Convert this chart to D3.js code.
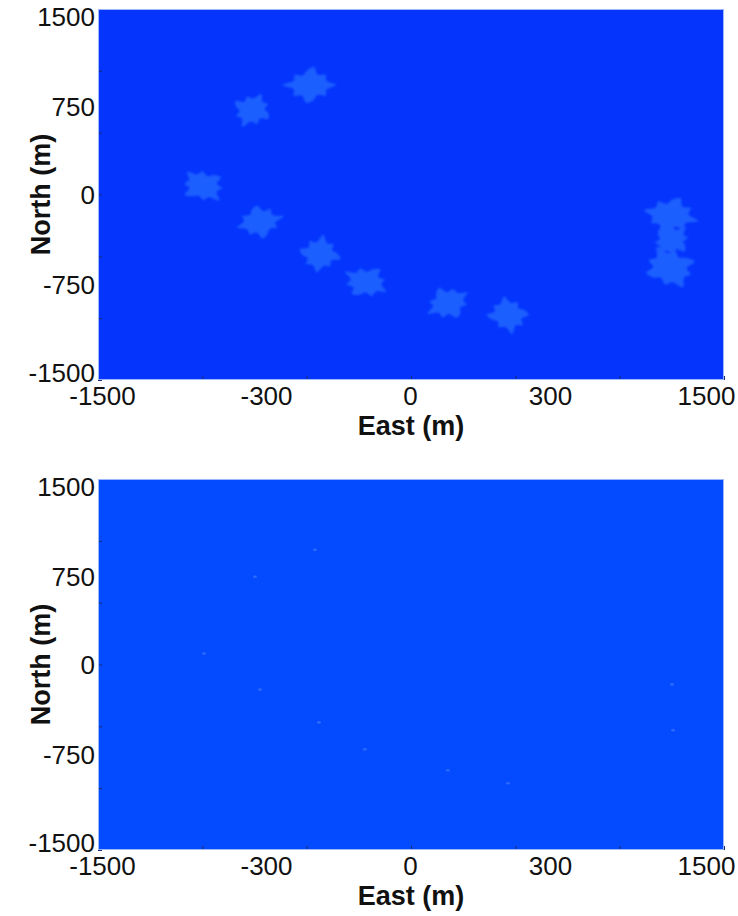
<!DOCTYPE html>
<html>
<head>
<meta charset="utf-8">
<script src="https://cdn.jsdelivr.net/npm/d3@7"></script>
<style>
body { margin: 0; background: #fff; }
text { font-family: Arial, "Liberation Sans", sans-serif; fill: #111; }
.tick-label text { font-size: 26px; fill: #111; }
.axis-title { font-size: 27px; font-weight: bold; }
</style>
</head>
<body>
<svg id="chart" width="738" height="916"></svg>
<script>

/*****************************************
*   Data
*****************************************/

// tick labels as printed on the axes
const X_LABELS = [-1500, -300, 0, 300, 1500];
const Y_LABELS = [1500, 750, 0, -750, -1500];
// tick marks every 500 m
const TICK_MARKS = [-1500, -1000, -500, 0, 500, 1000, 1500];

// top panel: wake patches, centre in metres and relative size
const wake_east  = [-484, -762, -997, -724, -436, -216, 177, 465, 1245, 1250, 1242];
const wake_north = [ 885,  683,   69, -222, -481, -707, -877, -974, -170, -370, -590];
const wake_size  = [1.1, 0.95, 1.0, 1.0, 1.0, 1.0, 1.0, 1.0, 1.15, 0.9, 1.2];

// bottom panel: turbine spots in metres
const turbine_east  = [-460, -748, -992, -724, -441, -221, 177, 465, 1251, 1256];
const turbine_north = [ 927,  710,   89, -202, -468, -686, -855, -960, -161, -532];

/*****************************************
*   Layout / styles
*****************************************/

const PLOT_LEFT = 98;
const PLOT_WIDTH = 626;
const PLOT_HEIGHT = 371;
const PANEL_TOPS = [9, 479];

// where the printed labels sit along the axes (px from plot edge)
const X_LABEL_POS = [4, 168, 312, 452, 608];
const Y_LABEL_POS = [8, 98, 186, 276, 364];

const BG_TOP = '#0535fd';
const BG_BOTTOM = '#044bff';
const WAKE_COLOR = '#1d5eff';
const TURBINE_COLOR = '#2a6aff';
const FRAME_COLOR = '#9bb8ff';

const BLOB_R_EAST = 95;     // metres
const BLOB_R_NORTH = 125;   // metres
// splat outline (radius factor going round the patch)
const BLOB_PROFILE = [1.2, 0.8, 0.95, 0.68, 0.9, 1.05, 0.72, 0.98, 0.78,
                      1.25, 0.78, 0.92, 0.66, 0.86, 1.08, 0.7, 0.94, 0.8];

var svg = d3.select('#chart');

var xScale = d3.scaleLinear()
    .domain([-1500, 1500])
    .range([0, PLOT_WIDTH]);

var yScale = d3.scaleLinear()
    .domain([-1500, 1500])
    .range([PLOT_HEIGHT, 0]);

var xLabelScale = d3.scaleLinear().domain(X_LABELS).range(X_LABEL_POS);
var yLabelScale = d3.scaleLinear().domain(Y_LABELS).range(Y_LABEL_POS);

// soft edge for wake patches
svg.append('defs')
    .append('filter')
    .attr('id', 'soft')
    .append('feGaussianBlur')
    .attr('stdDeviation', 0.9);

draw_panel(0, BG_TOP);
draw_wakes(d3.select('#panel0'));
draw_panel(1, BG_BOTTOM);
draw_turbines(d3.select('#panel1'));

/*****************************************
*   Panels
*****************************************/

function draw_panel(i, bg) {
    var g = svg.append('g')
        .attr('id', 'panel' + i)
        .attr('transform', 'translate(' + PLOT_LEFT + ',' + PANEL_TOPS[i] + ')');

    g.append('rect')
        .attr('width', PLOT_WIDTH)
        .attr('height', PLOT_HEIGHT)
        .attr('fill', bg);

    // inward tick marks
    var xTicks = g.append('g')
        .attr('transform', 'translate(0,' + PLOT_HEIGHT + ')')
        .call(d3.axisBottom(xScale).tickValues(TICK_MARKS).tickSize(-4).tickFormat(''));
    var yTicks = g.append('g')
        .call(d3.axisLeft(yScale).tickValues(TICK_MARKS).tickSize(-4).tickFormat(''));
    [xTicks, yTicks].forEach(function(a) {
        a.select('.domain').remove();
        a.selectAll('line').attr('stroke', '#1a2a70').attr('stroke-width', 1);
    });

    // printed labels (plain hyphen minus, no thousands comma)
    var xl = g.append('g')
        .attr('class', 'tick-label')
        .attr('transform', 'translate(0,' + PLOT_HEIGHT + ')')
        .call(d3.axisBottom(xLabelScale).tickValues(X_LABELS).tickSize(0).tickPadding(7)
            .tickFormat(d => String(d)));
    var yl = g.append('g')
        .attr('class', 'tick-label')
        .call(d3.axisLeft(yLabelScale).tickValues(Y_LABELS).tickSize(0).tickPadding(3)
            .tickFormat(d => String(d)));
    [xl, yl].forEach(function(a) {
        a.select('.domain').remove();
        a.attr('font-family', null).attr('font-size', null);
    });

    g.append('rect')
        .attr('class', 'frame')
        .attr('x', 0.5)
        .attr('y', 0.5)
        .attr('width', PLOT_WIDTH - 1)
        .attr('height', PLOT_HEIGHT - 1)
        .attr('fill', 'none')
        .attr('stroke', FRAME_COLOR)
        .attr('stroke-width', 1);

    g.append('text')
        .attr('class', 'axis-title')
        .attr('text-anchor', 'middle')
        .attr('x', PLOT_WIDTH / 2)
        .attr('y', PLOT_HEIGHT + 55)
        .text('East (m)');

    g.append('text')
        .attr('class', 'axis-title')
        .attr('text-anchor', 'middle')
        .attr('transform', 'translate(-48,' + (PLOT_HEIGHT / 2) + ') rotate(-90)')
        .text('North (m)');
}

function blob_path(d, i) {
    var cx = xScale(d.east);
    var cy = yScale(d.north);
    var rx = (xScale(d.east + BLOB_R_EAST) - cx) * d.size;
    var ry = (yScale(d.north) - yScale(d.north + BLOB_R_NORTH)) * d.size;
    var n = BLOB_PROFILE.length;
    var pts = BLOB_PROFILE.map(function(p, k) {
        var r = BLOB_PROFILE[(k + i * 4) % n];
        var a = 2 * Math.PI * k / n + i * 0.25;
        return [cx + Math.cos(a) * rx * r, cy + Math.sin(a) * ry * r];
    });
    return d3.line().curve(d3.curveCatmullRomClosed.alpha(0.5))(pts);
}

function draw_wakes(g) {
    var data = wake_east.map(function(e, i) {
        return {east: e, north: wake_north[i], size: wake_size[i]};
    });
    g.append('g')
        .attr('filter', 'url(#soft)')
        .selectAll('path')
        .data(data)
        .enter()
          .append('path')
          .attr('d', blob_path)
          .attr('fill', WAKE_COLOR);
}

function draw_turbines(g) {
    var data = turbine_east.map(function(e, i) {
        return {east: e, north: turbine_north[i]};
    });
    g.selectAll('ellipse')
        .data(data)
        .enter()
          .append('ellipse')
          .attr('cx', d => xScale(d.east))
          .attr('cy', d => yScale(d.north))
          .attr('rx', 2)
          .attr('ry', 1.3)
          .attr('fill', TURBINE_COLOR);
}
</script>
</body>
</html>
